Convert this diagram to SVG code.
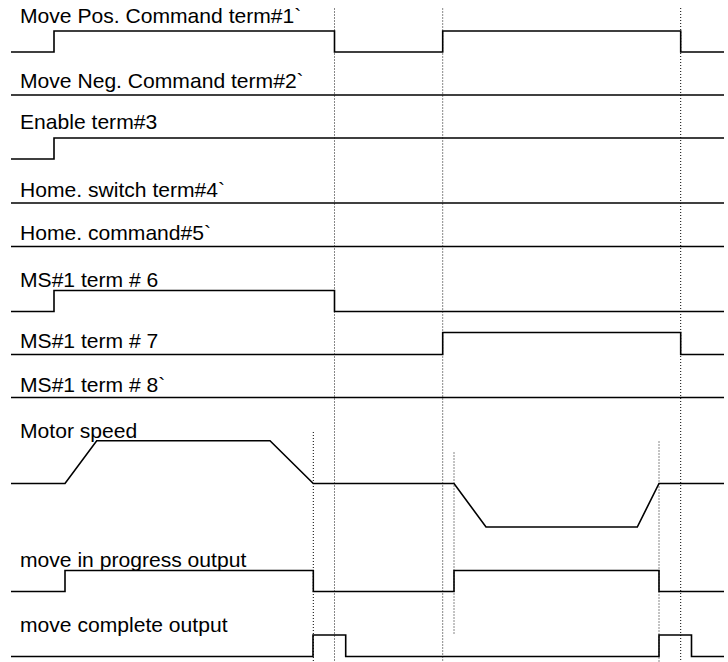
<svg xmlns="http://www.w3.org/2000/svg" width="728" height="662" viewBox="0 0 728 662">
<style>
.lbl{font-family:"Liberation Sans",Arial,sans-serif;font-size:20px;fill:#000}
.sig{fill:none;stroke:#000;stroke-width:1.6}
.gd{stroke:#888;stroke-width:1;stroke-dasharray:2,1;fill:none}
.bd{stroke:#000;stroke-width:1;stroke-dasharray:1,2;fill:none}
</style>
<rect width="728" height="662" fill="#fff"/>
<g id="guides">
<line class="gd" x1="334.5" y1="8" x2="334.5" y2="662"/>
<line class="gd" x1="442.7" y1="8" x2="442.7" y2="662"/>
<line class="bd" x1="680.7" y1="8" x2="680.7" y2="662"/>
<line class="bd" x1="313.3" y1="432" x2="313.3" y2="662"/>
<line class="gd" x1="454" y1="452" x2="454" y2="635"/>
<line class="gd" x1="659" y1="441" x2="659" y2="662"/>
</g>
<g id="sig1"><text class="lbl" transform="matrix(1.055,0,0,1,20,23)">Move Pos. Command term#1`</text>
<path class="sig" d="M11,52 H54 V31 H334.5 V52 H442.7 V31 H680.7 V52 H724"/></g>
<g id="sig2"><text class="lbl" transform="matrix(1.055,0,0,1,20,88)">Move Neg. Command term#2`</text>
<path class="sig" d="M11,95 H724"/></g>
<g id="sig3"><text class="lbl" transform="matrix(1.055,0,0,1,20,129)">Enable term#3</text>
<path class="sig" d="M11,159 H54 V138 H724"/></g>
<g id="sig4"><text class="lbl" transform="matrix(1.055,0,0,1,20,196.5)">Home. switch term#4`</text>
<path class="sig" d="M11,203 H724"/></g>
<g id="sig5"><text class="lbl" transform="matrix(1.055,0,0,1,20,240)">Home. command#5`</text>
<path class="sig" d="M11,246.5 H724"/></g>
<g id="sig6"><text class="lbl" transform="matrix(1.055,0,0,1,20,286.5)">MS#1 term # 6</text>
<path class="sig" d="M11,311.5 H54 V290.5 H334.5 V311.5 H724"/></g>
<g id="sig7"><text class="lbl" transform="matrix(1.055,0,0,1,20,347.5)">MS#1 term # 7</text>
<path class="sig" d="M11,354.5 H442.7 V332.5 H680.7 V354.5 H724"/></g>
<g id="sig8"><text class="lbl" transform="matrix(1.055,0,0,1,20,391.5)">MS#1 term # 8`</text>
<path class="sig" d="M11,397.5 H724"/></g>
<g id="motor"><text class="lbl" transform="matrix(1.055,0,0,1,20,437.5)">Motor speed</text>
<path class="sig" d="M11,483.5 H65 L96.7,440.7 H270 L313.3,483.5 H454 L486,527 H637.3 L659,483.5 H724"/></g>
<g id="progress"><text class="lbl" transform="matrix(1.055,0,0,1,20,566.5)">move in progress output</text>
<path class="sig" d="M11,591.5 H65 V570.5 H313.3 V591.5 H454 V570.5 H659 V591.5 H724"/></g>
<g id="complete"><text class="lbl" transform="matrix(1.055,0,0,1,20,631.5)">move complete output</text>
<path class="sig" d="M11,656.5 H313 V635 H345.7 V656.5 H659 V635 H691.5 V656.5 H724"/></g>
</svg>
